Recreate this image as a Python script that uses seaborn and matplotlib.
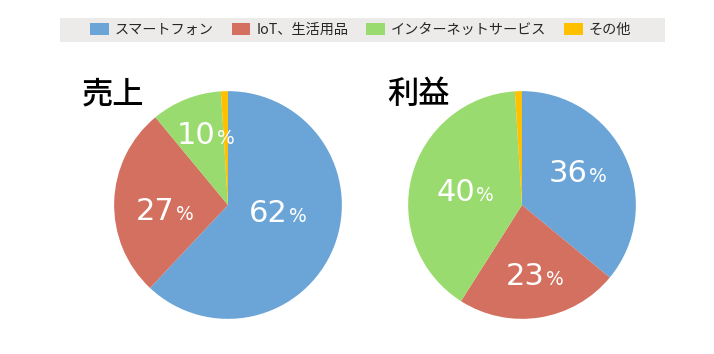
import matplotlib
matplotlib.use("Agg")
import matplotlib.pyplot as plt
import seaborn as sns
from matplotlib.offsetbox import TextArea, HPacker, AnnotationBbox
from matplotlib.patches import Patch, Rectangle
import numpy as np

# data
categories = ["スマートフォン", "IoT、生活用品", "インターネットサービス", "その他"]
sales = [62, 27, 10, 1]
profit = [36, 23, 40, 1]
titles = ["売上", "利益"]
colors = ["#6BA5D7", "#D3705F", "#9ADB6F", "#FFC000"]

# label placement (fraction of radius, angle nudge in degrees) - Excel "best fit"-like
sales_lbl = [(0.44, 12), (0.56, 8), (0.64, -4), None]
profit_lbl = [(0.56, 4), (0.64, 1), (0.51, 2), None]

sns.set_theme(style="white")
plt.rcParams["font.family"] = ["Noto Sans CJK JP", "DejaVu Sans"]

fig = plt.figure(figsize=(7.14, 3.54), dpi=100)
W, H = 714, 354

def pie(ax, values, lbl):
    wedges, _ = ax.pie(values, colors=colors, startangle=90, counterclock=False,
                       radius=1, wedgeprops=dict(linewidth=0))
    ax.set_xlim(-1.01, 1.01)
    ax.set_ylim(-1.01, 1.01)
    ax.set_aspect("equal")
    ax.axis("off")
    for w, v, pos in zip(wedges, values, lbl):
        if pos is None:
            continue
        d, nudge = pos
        ang = np.deg2rad((w.theta1 + w.theta2) / 2 + nudge)
        num = TextArea(f"{v}", textprops=dict(color="white", fontsize=22, family="DejaVu Sans"))
        pct = TextArea("%", textprops=dict(color="white", fontsize=13.5, family="DejaVu Sans"))
        box = HPacker(children=[num, pct], align="baseline", pad=0, sep=1)
        ab = AnnotationBbox(box, (d * np.cos(ang), d * np.sin(ang)), frameon=False,
                            box_alignment=(0.5, 0.5), pad=0)
        ax.add_artist(ab)

# left pie: sales
ax1 = fig.add_axes([(228 - 115) / W, (H - 205 - 115) / H, 230 / W, 230 / H])
pie(ax1, sales, sales_lbl)
# right pie: profit
ax2 = fig.add_axes([(522 - 115) / W, (H - 205 - 115) / H, 230 / W, 230 / H])
pie(ax2, profit, profit_lbl)

fig.text(82 / W, 1 - 94 / H, titles[0], fontsize=22.5, va="center", ha="left",
         color="black", weight="medium")
fig.text(387 / W, 1 - 94 / H, titles[1], fontsize=22.5, va="center", ha="left",
         color="black", weight="medium")

# legend strip
fig.patches.append(Rectangle((60 / W, 1 - 41.7 / H), 605 / W, 24 / H,
                             transform=fig.transFigure, facecolor="#EDEBE9",
                             edgecolor="none", zorder=0))
handles = [Patch(facecolor=c, edgecolor="none") for c in colors]
leg = fig.legend(handles, categories, ncol=4, loc="center left",
                 bbox_to_anchor=(90 / W, 1 - 29.7 / H), frameon=False,
                 fontsize=10.2, handlelength=1.34, handleheight=0.99,
                 handletextpad=0.4, columnspacing=1.27, borderpad=0, borderaxespad=0)

fig.savefig("out.png", dpi=100, facecolor="white")
